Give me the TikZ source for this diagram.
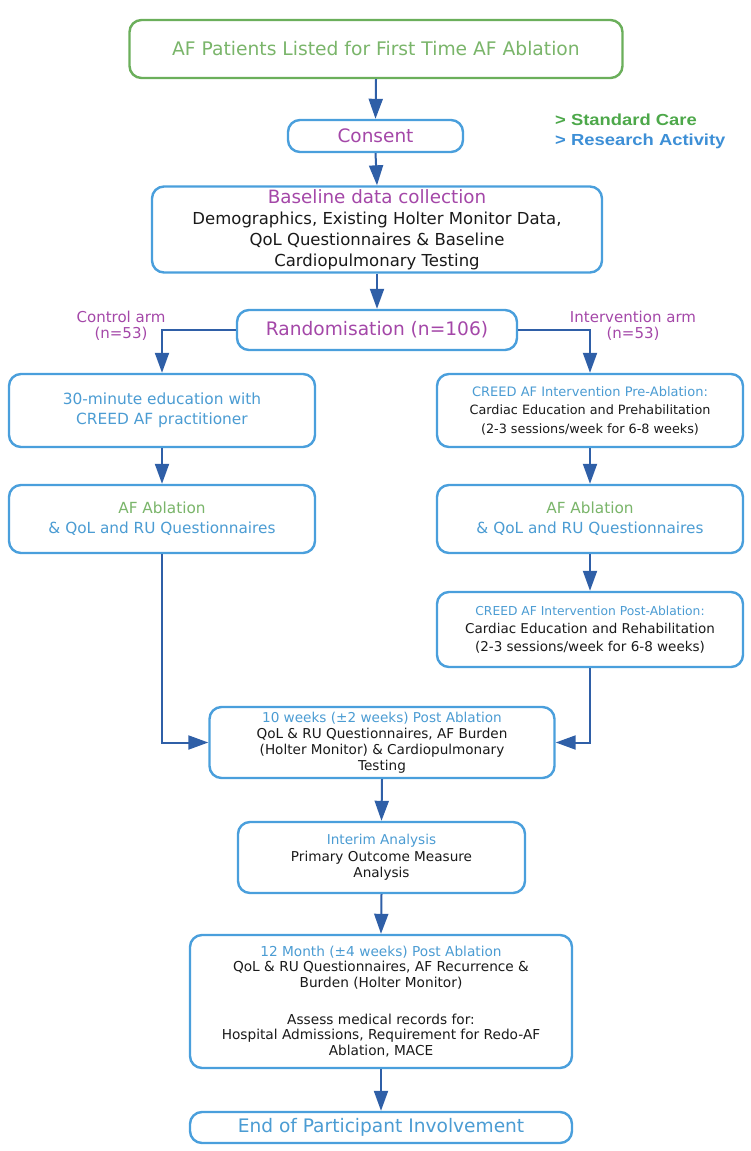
\documentclass[tikz,border=0pt]{standalone}
\usepackage{fontspec}
\setmainfont{DejaVu Sans}
\newfontfamily\legfont[FakeStretch=1.15]{Liberation Sans}
\usetikzlibrary{arrows.meta}
\definecolor{bordgreen}{HTML}{6BAF5B}
\definecolor{bordblue}{HTML}{4A9FDC}
\definecolor{arrblue}{HTML}{2F5FA7}
\definecolor{txtpurple}{HTML}{A447A8}
\definecolor{txtblue}{HTML}{4B9CD3}
\definecolor{txtgreen}{HTML}{7AB56A}
\definecolor{leggreen}{HTML}{4DA84A}
\definecolor{legblue}{HTML}{3D8FD6}
\definecolor{txtblack}{HTML}{1A1A1A}
\newcommand{\fs}[2]{\fontsize{#1}{#2}\selectfont}
\tikzset{
  box/.style={draw=bordblue, line width=2.4pt, rounded corners=12pt, fill=white,
    align=center, inner sep=2pt, text=txtblack},
  gbox/.style={box, draw=bordgreen},
  arr/.style={draw=arrblue, line width=2pt, -{Triangle[width=14pt,length=20pt]}},
  lbl/.style={text=txtpurple, align=center, inner sep=0pt, font=\fs{15}{16.5}},
}
\begin{document}
\begin{tikzpicture}[x=1pt,y=-1pt]
\useasboundingbox (0,0) rectangle (750,1151);

\node[gbox, minimum width=493pt, minimum height=58pt, text=txtgreen, font=\fs{18.7}{22}] (top) at (376,49) {AF Patients Listed for First Time AF Ablation};

\node[box, minimum width=175pt, minimum height=32pt, text=txtpurple, font=\fs{18.5}{21}] (consent) at (375.5,136) {Consent};

\node[anchor=west, align=left, inner sep=0pt, font=\legfont\bfseries\fs{16}{20}] (legend) at (555,131)
  {\textcolor{leggreen}{> Standard Care}\\\textcolor{legblue}{> Research Activity}};

\node[box, minimum width=450pt, minimum height=86pt, font=\fs{16.5}{21}] (base) at (377,229.5)
  {{\color{txtpurple}\fs{18.3}{20}Baseline data collection}\\Demographics, Existing Holter Monitor Data,\\QoL Questionnaires \& Baseline\\Cardiopulmonary Testing};

\node[box, minimum width=280pt, minimum height=40pt, text=txtpurple, font=\fs{18.6}{21}] (rand) at (377,330) {Randomisation (n=106)};

\node[lbl] (ctrl) at (121,326) {Control arm\\(n=53)};
\node[lbl] (intv) at (633,326) {Intervention arm\\(n=53)};

\node[box, minimum width=306pt, minimum height=73pt, text=txtblue, font=\fs{15.4}{20}] (edu) at (162,410.5)
  {30-minute education with\\CREED AF practitioner};
\node[box, minimum width=306pt, minimum height=68pt, text=txtblue, font=\fs{15.3}{20}] (abl1) at (162,519)
  {{\color{txtgreen}AF Ablation}\\\& QoL and RU Questionnaires};

\node[box, minimum width=306pt, minimum height=73pt, font=\fs{12.8}{18.5}] (pre) at (590,410.5)
  {{\color{txtblue}\fs{13}{15}CREED AF Intervention Pre-Ablation:}\\Cardiac Education and Prehabilitation\\(2-3 sessions/week for 6-8 weeks)};
\node[box, minimum width=306pt, minimum height=68pt, text=txtblue, font=\fs{15.3}{20}] (abl2) at (590,519)
  {{\color{txtgreen}AF Ablation}\\\& QoL and RU Questionnaires};
\node[box, minimum width=306pt, minimum height=75pt, font=\fs{13.5}{18}] (post) at (590,629.5)
  {{\color{txtblue}\fs{12.3}{15}CREED AF Intervention Post-Ablation:}\\Cardiac Education and Rehabilitation\\(2-3 sessions/week for 6-8 weeks)};

\node[box, minimum width=345pt, minimum height=71pt, font=\fs{13.6}{16}] (wk10) at (382,742.5)
  {{\color{txtblue}10 weeks (±2 weeks) Post Ablation}\\QoL \& RU Questionnaires, AF Burden\\(Holter Monitor) \& Cardiopulmonary\\Testing};

\node[box, minimum width=287pt, minimum height=71pt, font=\fs{13.6}{16.5}] (interim) at (381.5,857.5)
  {{\color{txtblue}Interim Analysis}\\Primary Outcome Measure\\Analysis};

\node[box, minimum width=382pt, minimum height=133pt, font=\fs{13.7}{15.7}] (m12) at (381,1001.5)
  {{\color{txtblue}12 Month (±4 weeks) Post Ablation}\\QoL \& RU Questionnaires, AF Recurrence \&\\Burden (Holter Monitor)\\[21pt]Assess medical records for:\\Hospital Admissions, Requirement for Redo-AF\\Ablation, MACE};

\node[box, minimum width=382pt, minimum height=31pt, text=txtblue, font=\fs{18.6}{21}] (end) at (381,1127.5)
  {End of Participant Involvement};

\draw[arr] (top.south) -- (consent.north);
\draw[arr] (consent.south) -- (base.north);
\draw[arr] (base.south) -- (rand.north);
\draw[arr] (rand.west) -| (edu.north);
\draw[arr] (rand.east) -| (pre.north);
\draw[arr] (edu.south) -- (abl1.north);
\draw[arr] (pre.south) -- (abl2.north);
\draw[arr] (abl2.south) -- (post.north);
\draw[arr] (abl1.south) |- (wk10.west);
\draw[arr] (post.south) |- (wk10.east);
\draw[arr] (wk10.south) -- (interim.north);
\draw[arr] (interim.south) -- (m12.north);
\draw[arr] (m12.south) -- (end.north);
\end{tikzpicture}
\end{document}
